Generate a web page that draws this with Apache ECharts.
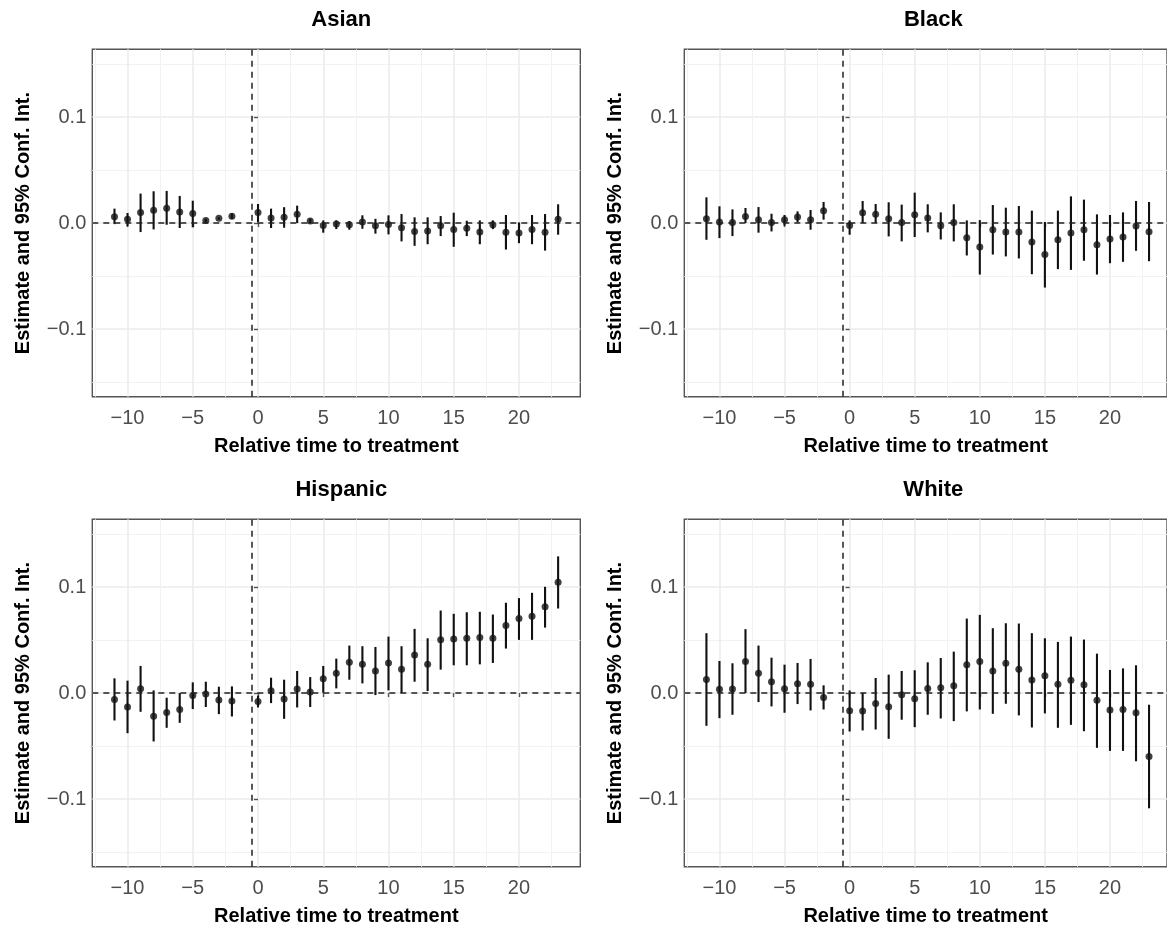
<!DOCTYPE html>
<html>
<head>
<meta charset="utf-8">
<title>Event study by group</title>
<script src="https://cdn.jsdelivr.net/npm/echarts@6/dist/echarts.min.js"></script>
<style>
  html, body { margin: 0; padding: 0; background: #fff; }
  #chart { width: 1167px; height: 929px; }
</style>
</head>
<body>
<div id="chart"></div>
<script>
// relative periods (reference period -1 omitted)
const periods = [-11, -10, -9, -8, -7, -6, -5, -4, -3, -2,
  0, 1, 2, 3, 4, 5, 6, 7, 8, 9, 10, 11, 12, 13, 14, 15, 16, 17, 18, 19, 20, 21, 22, 23];

const xTicks = [-10, -5, 0, 5, 10, 15, 20];
const yTicks = [-0.1, 0, 0.1];
const panelNames = ["Asian", "Black", "Hispanic", "White"];

const asianEst = [0.006, 0.0035, 0.010, 0.012, 0.014, 0.0105, 0.009, 0.0025, 0.0045, 0.0065,
  0.010, 0.0047, 0.0054, 0.0082, 0.0019, -0.0022, -0.001, -0.0016, 0.001, -0.0025, -0.0013, -0.0044,
  -0.0079, -0.0076, -0.0025, -0.006, -0.005, -0.0085, -0.0016, -0.0088, -0.0095, -0.006, -0.0088, 0.0035];
const asianLo = [-0.001, -0.003, -0.0085, -0.006, -0.0016, -0.0047, -0.004, 0.0006, 0.0032, 0.004,
  0.001, -0.0047, -0.0044, 0.0, -0.0003, -0.0091, -0.0057, -0.0063, -0.0054, -0.010, -0.0107, -0.0173,
  -0.0215, -0.020, -0.0123, -0.0224, -0.0123, -0.020, -0.0057, -0.025, -0.019, -0.020, -0.026, -0.011];
const asianHi = [0.0136, 0.0095, 0.0278, 0.030, 0.0303, 0.0256, 0.0211, 0.004, 0.0054, 0.009,
  0.018, 0.0136, 0.015, 0.0164, 0.004, 0.0025, 0.0025, 0.0019, 0.0073, 0.004, 0.0073, 0.0085,
  0.0054, 0.0054, 0.0066, 0.0098, 0.0022, 0.0025, 0.0025, 0.0076, 0.0006, 0.0076, 0.0085, 0.0177];

const blackEst = [0.0041, 0.001, 0.0006, 0.0063, 0.0032, 0.0006, 0.0032, 0.0057, 0.0032, 0.0117,
  -0.0022, 0.0098, 0.0082, 0.0041, 0.0006, 0.0079, 0.0047, -0.0025, 0.0006, -0.0139, -0.0227, -0.0063,
  -0.0085, -0.0085, -0.018, -0.0297, -0.0158, -0.0095, -0.0063, -0.0205, -0.0151, -0.0132, -0.0028, -0.0082];
const blackLo = [-0.0158, -0.0142, -0.0123, 0.0, -0.0091, -0.0079, -0.0025, 0.0006, -0.0063, 0.0032,
  -0.011, 0.0, 0.0, -0.0126, -0.0173, -0.0132, -0.0088, -0.0155, -0.0173, -0.0306, -0.0486, -0.0297,
  -0.0315, -0.0334, -0.0483, -0.0609, -0.0435, -0.0442, -0.0356, -0.0486, -0.0379, -0.0366, -0.0262, -0.036];
const blackHi = [0.0243, 0.0158, 0.0129, 0.0142, 0.0151, 0.0088, 0.0076, 0.011, 0.0123, 0.0199,
  0.0025, 0.0208, 0.018, 0.0196, 0.0174, 0.0287, 0.0177, 0.0101, 0.0177, 0.0025, 0.0028, 0.017,
  0.0145, 0.0161, 0.0117, 0.001, 0.0117, 0.0252, 0.0221, 0.0082, 0.0076, 0.0101, 0.0208, 0.0199];

const hispanicEst = [-0.006, -0.0132, 0.0041, -0.0218, -0.0183, -0.0155, -0.0022, -0.001, -0.0066, -0.0076,
  -0.0079, 0.0022, -0.0057, 0.0038, 0.001, 0.0136, 0.0186, 0.029, 0.0271, 0.0208, 0.0284, 0.0224,
  0.036, 0.0271, 0.0502, 0.0511, 0.0517, 0.0524, 0.0517, 0.0637, 0.0703, 0.0726, 0.0814, 0.1047];
const hispanicLo = [-0.0259, -0.0379, -0.0177, -0.0457, -0.0328, -0.0281, -0.0151, -0.0132, -0.0199, -0.0221,
  -0.0136, -0.0095, -0.0243, -0.0136, -0.0132, 0.0003, 0.0044, 0.0126, 0.0091, -0.0019, 0.0025, 0.0,
  0.0107, 0.0019, 0.0221, 0.0262, 0.0262, 0.0271, 0.0284, 0.042, 0.0502, 0.0502, 0.0618, 0.0798];
const hispanicHi = [0.0139, 0.0117, 0.0256, 0.0025, -0.0044, 0.0, 0.0101, 0.0107, 0.006, 0.0063,
  -0.0025, 0.0145, 0.0126, 0.0208, 0.0151, 0.0256, 0.0325, 0.0448, 0.0442, 0.0435, 0.0533, 0.0442,
  0.0606, 0.0517, 0.0779, 0.0748, 0.0763, 0.0767, 0.0741, 0.0852, 0.0896, 0.0946, 0.1003, 0.129];

const whiteEst = [0.0129, 0.0035, 0.0038, 0.0297, 0.0186, 0.0107, 0.0041, 0.0088, 0.0082, -0.0041,
  -0.0167, -0.017, -0.0098, -0.0129, -0.0016, -0.0054, 0.0044, 0.005, 0.0069, 0.0268, 0.0297, 0.0208,
  0.0281, 0.0224, 0.0123, 0.0164, 0.0082, 0.012, 0.0079, -0.0069, -0.0161, -0.0155, -0.0186, -0.0599];
const whiteLo = [-0.0309, -0.0237, -0.0205, 0.0, -0.0085, -0.0126, -0.0186, -0.0104, -0.0164, -0.0155,
  -0.0363, -0.0353, -0.0344, -0.0432, -0.0252, -0.0322, -0.0205, -0.024, -0.0265, -0.0173, -0.0155, -0.0196,
  -0.0101, -0.0211, -0.0325, -0.0192, -0.0328, -0.03, -0.036, -0.0517, -0.0546, -0.0546, -0.0644, -0.1088];
const whiteHi = [0.0565, 0.0303, 0.0281, 0.0603, 0.0448, 0.0334, 0.0268, 0.0284, 0.0322, 0.0073,
  0.0025, 0.0, 0.0142, 0.0174, 0.0208, 0.0215, 0.029, 0.0331, 0.0391, 0.0703, 0.0738, 0.0612,
  0.0659, 0.0656, 0.0565, 0.0517, 0.0483, 0.0533, 0.0505, 0.0372, 0.0218, 0.0233, 0.0262, -0.011];

const groups = [
  { est: asianEst, lo: asianLo, hi: asianHi },
  { est: blackEst, lo: blackLo, hi: blackHi },
  { est: hispanicEst, lo: hispanicLo, hi: hispanicHi },
  { est: whiteEst, lo: whiteLo, hi: whiteHi },
];

const FONT = "'Liberation Sans', Arial, Helvetica, sans-serif";
const PANEL_W = 488, PANEL_H = 347.5;
const lefts = [92.3, 684.3];
const tops = [49.3, 519.3];
// right column is cut off by the page edge, so it shows a shorter x range
const widths = [PANEL_W, 1167 - 684.3];
const xMax = [24.7, 24.38];

function minusFmt(s) {
  return s.charAt(0) === "-" ? "\u2212" + s.slice(1) : s;
}

const grids = [], xAxes = [], yAxes = [], titles = [], series = [];

panelNames.forEach(function (name, i) {
  const col = i % 2;
  const left = lefts[col];
  const top = tops[Math.floor(i / 2)];
  grids.push({
    left: left, top: top, width: widths[col], height: PANEL_H,
    show: true, borderColor: "#555", borderWidth: 1.4, backgroundColor: "transparent",
  });
  titles.push({
    text: name, left: left + PANEL_W / 2, top: top - 45, textAlign: "center",
    textStyle: { fontFamily: FONT, fontSize: 22, fontWeight: "bold", color: "#000" },
  });
  xAxes.push({
    gridIndex: i, type: "value", min: -12.7, max: xMax[col],
    minInterval: 5, maxInterval: 5, splitNumber: 7,
    name: "Relative time to treatment", nameLocation: "middle", nameGap: 40,
    nameTextStyle: { fontFamily: FONT, fontSize: 20, fontWeight: "bold", color: "#000" },
    axisLine: { show: false },
    axisTick: { show: true, length: 4, customValues: xTicks, lineStyle: { color: "#555", width: 1.4 } },
    axisLabel: {
      customValues: xTicks, margin: 12, color: "#4d4d4d", fontFamily: FONT, fontSize: 20,
      formatter: function (v) { return minusFmt(String(v)); },
    },
    splitLine: { show: true, lineStyle: { color: "#ebebeb", width: 1.5 } },
    minorTick: { show: false, splitNumber: 2 },
    minorSplitLine: { show: true, lineStyle: { color: "#f2f2f2", width: 1 } },
  });
  yAxes.push({
    gridIndex: i, type: "value", min: -0.164, max: 0.164,
    minInterval: 0.1, maxInterval: 0.1, splitNumber: 3,
    name: "Estimate and 95% Conf. Int.", nameLocation: "middle", nameGap: 59,
    nameTextStyle: { fontFamily: FONT, fontSize: 20, fontWeight: "bold", color: "#000" },
    axisLine: { show: false },
    axisTick: { show: true, length: 4, customValues: yTicks, lineStyle: { color: "#555", width: 1.4 } },
    axisLabel: {
      customValues: yTicks, margin: 6, color: "#4d4d4d", fontFamily: FONT, fontSize: 20,
      formatter: function (v) { return minusFmt(v.toFixed(1)); },
    },
    splitLine: { show: true, lineStyle: { color: "#ebebeb", width: 1.5 } },
    minorTick: { show: false, splitNumber: 2 },
    minorSplitLine: { show: true, lineStyle: { color: "#f2f2f2", width: 1 } },
  });

  const g = groups[i];
  series.push({
    type: "custom", xAxisIndex: i, yAxisIndex: i, z: 3, silent: true,
    data: periods.map(function (p, k) { return [p, g.lo[k], g.hi[k]]; }),
    encode: { x: 0, y: [1, 2] },
    renderItem: function (params, api) {
      const x = api.value(0);
      const a = api.coord([x, api.value(1)]);
      const b = api.coord([x, api.value(2)]);
      return {
        type: "line",
        shape: { x1: a[0], y1: a[1], x2: b[0], y2: b[1] },
        style: { stroke: "#111", lineWidth: 2.1 },
      };
    },
  });
  series.push({
    type: "scatter", xAxisIndex: i, yAxisIndex: i, z: 4, silent: true,
    symbol: "circle", symbolSize: 7,
    itemStyle: { color: "#111" },
    data: periods.map(function (p, k) { return [p, g.est[k]]; }),
    markLine: {
      silent: true, symbol: "none", animation: false,
      label: { show: false },
      lineStyle: { color: "#222", width: 1.5, type: [6, 5] },
      data: [{ xAxis: -0.5 }, { yAxis: 0 }],
    },
  });
});

const chart = echarts.init(document.getElementById("chart"));
chart.setOption({
  animation: false,
  backgroundColor: "#fff",
  title: titles,
  grid: grids,
  xAxis: xAxes,
  yAxis: yAxes,
  series: series,
});
</script>
</body>
</html>
